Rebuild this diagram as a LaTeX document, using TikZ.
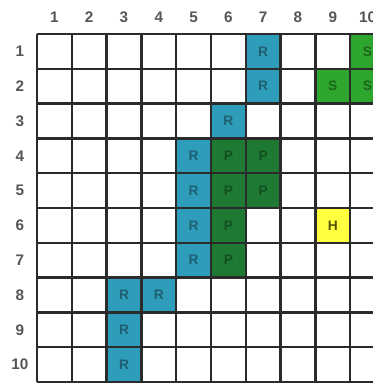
\documentclass[tikz,border=0pt]{standalone}
\usepackage{fontspec}
\setsansfont{Liberation Sans}
\usepackage{tikz}
\usetikzlibrary{positioning}

\definecolor{gridline}{HTML}{2B2B2B}
\definecolor{labelgray}{HTML}{555555}
\definecolor{rfill}{HTML}{2E9DBA}
\definecolor{rtext}{HTML}{1F5F72}
\definecolor{pfill}{HTML}{1E7A33}
\definecolor{ptext}{HTML}{134F20}
\definecolor{sfill}{HTML}{2EA62E}
\definecolor{stext}{HTML}{1A661A}
\definecolor{hfill}{HTML}{FFFF40}
\definecolor{htext}{HTML}{555500}

\begin{document}
\begin{tikzpicture}[
        x=0.8cm, y=-0.8cm,
        every node/.style={inner sep=0pt, font=\sffamily\bfseries\small},
        axis/.style={text=labelgray, font=\sffamily\bfseries},
        cell/.style={minimum size=0.8cm},
        rcell/.style={cell, fill=rfill, text=rtext},
        pcell/.style={cell, fill=pfill, text=ptext},
        scell/.style={cell, fill=sfill, text=stext},
        hcell/.style={cell, fill=hfill, text=htext}
    ]
    \useasboundingbox (-1.063,-0.977) rectangle (9.655,10.03);
    \clip (-1.063,-0.977) rectangle (9.655,10.03);
    \fill[white] (-1.063,-0.977) rectangle (9.655,10.03);
    % number labels
    \foreach \n in {1,...,10} {
        \node[axis] (col\n) at (\n-0.5,-0.49) {\n};
        \node[axis] (row\n) at (-0.49,\n-0.5) {\n};
    }
    % filled cells
    \foreach \c/\r [count=\i] in {7/1, 7/2, 6/3, 5/4, 5/5, 5/6, 5/7, 3/8, 4/8, 3/9, 3/10}
        \node[rcell] (R\i) at (\c-0.5,\r-0.5) {R};
    \foreach \c/\r [count=\i] in {6/4, 7/4, 6/5, 7/5, 6/6, 6/7}
        \node[pcell] (P\i) at (\c-0.5,\r-0.5) {P};
    \foreach \c/\r [count=\i] in {10/1, 9/2, 10/2}
        \node[scell] (S\i) at (\c-0.5,\r-0.5) {S};
    \node[hcell] (H1) at (8.5,5.5) {H};
    % grid
    \foreach \k in {0,...,10} {
        \draw[gridline, line width=1.6pt] (\k,0) -- (\k,10);
        \draw[gridline, line width=1.6pt] (0,\k) -- (11,\k);
    }
\end{tikzpicture}
\end{document}
